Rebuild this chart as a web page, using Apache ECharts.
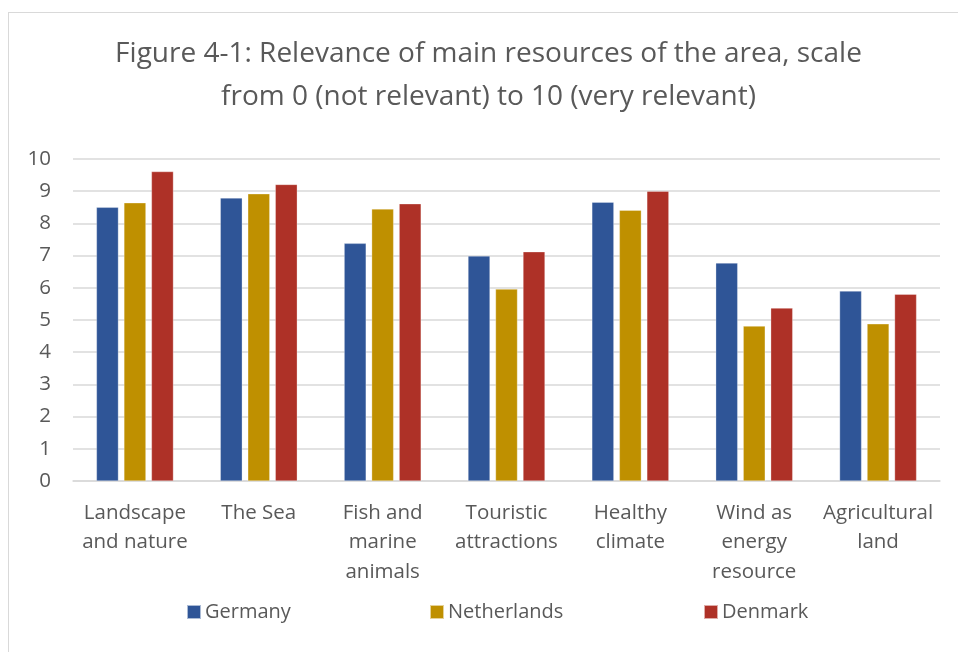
<!DOCTYPE html>
<html>
<head>
<meta charset="utf-8">
<script src="https://cdn.jsdelivr.net/npm/echarts@6/dist/echarts.min.js"></script>
<style>
html,body{margin:0;padding:0;background:#fff;}
#frame{position:absolute;left:8px;top:12px;width:960px;height:660px;border:1px solid #d9d9d9;box-sizing:border-box;}
#chart{position:absolute;left:0;top:0;width:958px;height:652px;}
</style>
</head>
<body>
<div id="frame"></div>
<div id="chart"></div>
<script>
const categories = ['Landscape\nand nature', 'The Sea', 'Fish and\nmarine\nanimals', 'Touristic\nattractions', 'Healthy\nclimate', 'Wind as\nenergy\nresource', 'Agricultural\nland'];
const germany = [8.50, 8.79, 7.38, 6.99, 8.66, 6.77, 5.90];
const netherlands = [8.64, 8.92, 8.45, 5.96, 8.41, 4.81, 4.88];
const denmark = [9.61, 9.21, 8.61, 7.12, 9.00, 5.37, 5.80];
const yTicks = [0, 1, 2, 3, 4, 5, 6, 7, 8, 9, 10];
const titleText = 'Figure 4-1: Relevance of main resources of the area, scale\nfrom 0 (not relevant) to 10 (very relevant)';

const FONT = 'Open Sans';
const TXT = '#595959';
const chart = echarts.init(document.getElementById('chart'), null, {renderer: 'canvas'});
const barStyle = (c) => ({color: c, borderColor: 'rgba(255,255,255,0.6)', borderWidth: 0.5});
const legendBase = {
  top: 602, padding: 0, itemWidth: 14, itemHeight: 14, icon: 'rect', itemGap: 6,
  textStyle: {fontFamily: FONT, fontSize: 20, color: TXT, padding: [0, 0, 0, -1]}
};
chart.setOption({
  animation: false,
  graphic: [{
    type: 'text', x: 488.5, y: 33,
    style: {text: titleText, fontFamily: FONT, fontSize: 28, fill: TXT, lineHeight: 43, align: 'center', verticalAlign: 'top'}
  }],
  legend: [
    Object.assign({}, legendBase, {left: 186, data: ['Germany']}),
    Object.assign({}, legendBase, {left: 429, data: ['Netherlands']}),
    Object.assign({}, legendBase, {left: 703, data: ['Denmark']})
  ],
  grid: {left: 73, right: 18, top: 159, bottom: 171, containLabel: false},
  xAxis: {
    type: 'category', data: categories,
    axisLine: {lineStyle: {color: '#d9d9d9', width: 1.5}},
    axisTick: {show: false},
    axisLabel: {fontFamily: FONT, fontSize: 20.5, color: TXT, lineHeight: 29.5, margin: 17, interval: 0}
  },
  yAxis: {
    type: 'value', min: 0, max: 10, interval: 1,
    axisLine: {show: false}, axisTick: {show: false},
    splitLine: {lineStyle: {color: '#d9d9d9', width: 1.5}},
    axisLabel: {fontFamily: FONT, fontSize: 20.5, color: TXT, margin: 22,
      formatter: (v) => yTicks.includes(v) ? String(v) : ''}
  },
  series: [
    {name: 'Germany', type: 'bar', data: germany, barWidth: 22, barGap: '25%', itemStyle: barStyle('#2F5597')},
    {name: 'Netherlands', type: 'bar', data: netherlands, barWidth: 22, barGap: '25%', itemStyle: barStyle('#BF9000')},
    {name: 'Denmark', type: 'bar', data: denmark, barWidth: 22, barGap: '25%', itemStyle: barStyle('#AE3127')}
  ]
});
</script>
</body>
</html>
